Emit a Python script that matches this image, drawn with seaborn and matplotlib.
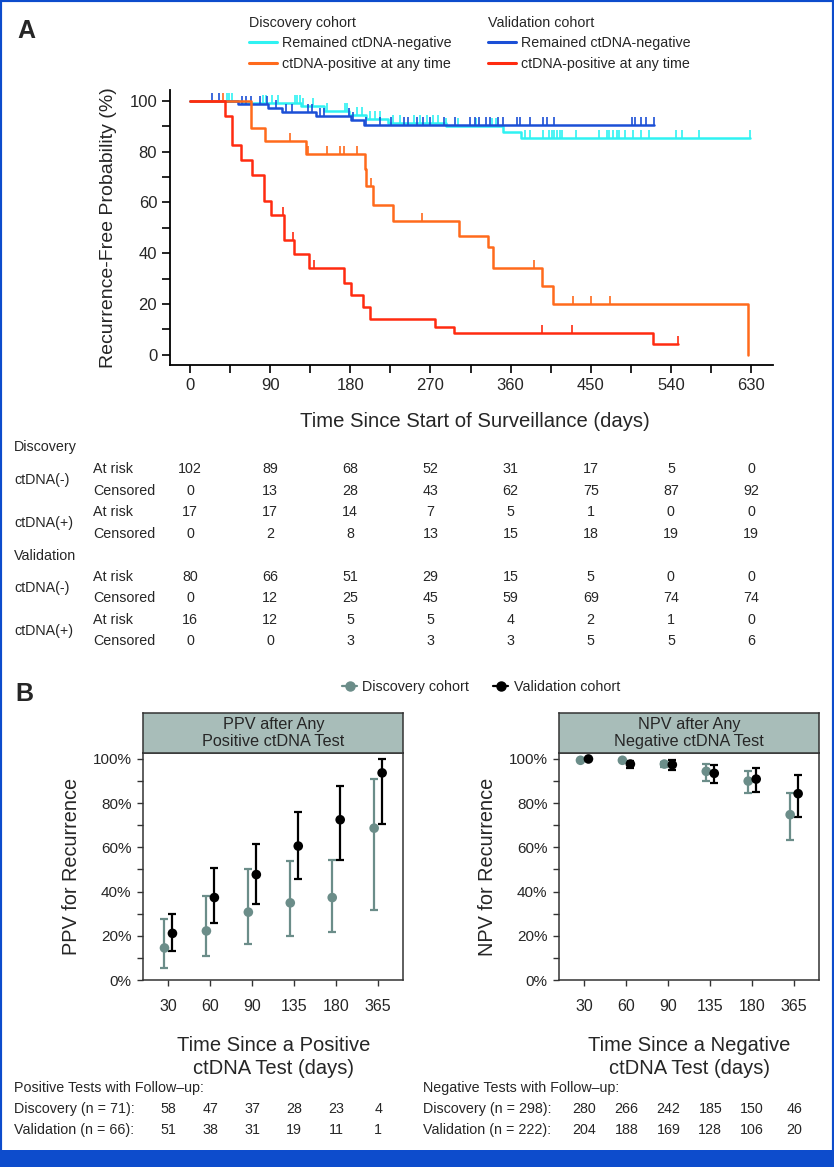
import numpy as np
import pandas as pd
import matplotlib
matplotlib.use('Agg')
import matplotlib.pyplot as plt
import matplotlib.transforms as mtransforms
from matplotlib.lines import Line2D
from matplotlib.patches import Rectangle
import seaborn as sns

# ---- panel A: Kaplan-Meier step points (days, % recurrence free) ----
disc_neg_t = [0, 58, 125, 150, 178, 198, 222, 288, 352, 372, 629]
disc_neg_s = [100, 99.0, 97.9, 96.0, 94.2, 92.7, 91.3, 89.9, 87.6, 85.3, 85.3]
disc_neg_cens = [41, 44, 47, 82, 85, 92, 99, 118, 120, 124, 127, 138, 154, 174, 176, 187,
                 193, 202, 208, 213, 228, 236, 251, 258, 266, 273, 279, 288, 301, 321,
                 339, 344, 376, 382, 396, 403, 406, 409, 412, 415, 418, 434, 459, 468,
                 471, 475, 479, 482, 488, 497, 507, 515, 546, 552, 572, 629]

val_neg_t = [0, 54, 88, 103, 142, 181, 195, 521]
val_neg_s = [100, 98.7, 97.1, 95.7, 94.1, 92.4, 90.6, 90.6]
val_neg_cens = [25, 33, 58, 63, 69, 79, 87, 97, 108, 114, 133, 137, 146, 150, 178, 183,
                198, 213, 226, 240, 245, 255, 262, 270, 285, 298, 314, 320, 324, 332,
                337, 346, 351, 367, 371, 382, 396, 401, 409, 496, 500, 506, 512, 521]

disc_pos_t = [0, 68, 84, 130, 196, 198, 205, 228, 302, 335, 340, 395, 408, 627]
disc_pos_s = [100, 89.3, 84.1, 79.0, 73.0, 66.3, 59.0, 52.5, 46.7, 42.4, 34.1, 27.2, 20.1, 0]
disc_pos_cens = [37, 112, 133, 154, 168, 173, 187, 203, 260, 386, 430, 450, 472]

val_pos_t = [0, 39, 47, 57, 70, 83, 91, 106, 117, 134, 173, 181, 194, 202, 275, 296, 520, 548]
val_pos_s = [100, 94.1, 82.4, 76.5, 70.6, 60.4, 55.2, 45.0, 39.5, 34.1, 28.2, 23.7, 19.0,
             14.0, 11.0, 8.6, 4.1, 4.1]
val_pos_cens = [104, 116, 139, 395, 429, 548]

# ---- risk table ----
risk_days = [0, 90, 180, 270, 360, 450, 540, 630]
disc_neg_risk = [102, 89, 68, 52, 31, 17, 5, 0]
disc_neg_cnt = [0, 13, 28, 43, 62, 75, 87, 92]
disc_pos_risk = [17, 17, 14, 7, 5, 1, 0, 0]
disc_pos_cnt = [0, 2, 8, 13, 15, 18, 19, 19]
val_neg_risk = [80, 66, 51, 29, 15, 5, 0, 0]
val_neg_cnt = [0, 12, 25, 45, 59, 69, 74, 74]
val_pos_risk = [16, 12, 5, 5, 4, 2, 1, 0]
val_pos_cnt = [0, 0, 3, 3, 3, 5, 5, 6]

# ---- panel B ----
windows = ['30', '60', '90', '135', '180', '365']
ppv_disc = [14.5, 22.2, 30.7, 34.9, 37.3, 68.7]
ppv_disc_lo = [5.3, 10.7, 16.5, 20.1, 21.9, 31.7]
ppv_disc_hi = [27.5, 37.8, 50.3, 53.9, 54.4, 91.1]
ppv_val = [21.1, 37.3, 47.7, 60.6, 72.5, 93.7]
ppv_val_lo = [13.1, 25.8, 34.3, 45.6, 54.4, 70.5]
ppv_val_hi = [29.9, 50.6, 61.5, 75.8, 87.6, 100]
npv_disc = [99.4, 99.4, 97.7, 94.4, 90.0, 74.8]
npv_disc_lo = [99.0, 99.0, 96.2, 90.2, 84.6, 63.4]
npv_disc_hi = [99.7, 99.7, 98.8, 97.6, 94.4, 84.6]
npv_val = [100, 97.7, 97.4, 93.5, 90.9, 84.3]
npv_val_lo = [100, 95.8, 94.9, 89.0, 85.0, 73.9]
npv_val_hi = [100, 99.1, 99.4, 97.1, 95.8, 92.7]

pos_disc_n = [58, 47, 37, 28, 23, 4]
pos_val_n = [51, 38, 31, 19, 11, 1]
neg_disc_n = [280, 266, 242, 185, 150, 46]
neg_val_n = [204, 188, 169, 128, 106, 20]

CYAN = '#2ff2f2'
BLUE = '#1b4fd6'
ORANGE = '#ff6a1c'
RED = '#ff2b10'
GREY = '#6b8d89'
STRIP = '#a8bdb9'
FRAME = '#0d4ccc'

sns.set_style('ticks')
plt.rcParams['font.family'] = ['Liberation Sans', 'DejaVu Sans']
plt.rcParams['axes.edgecolor'] = 'black'

W, H = 834, 1167
fig = plt.figure(figsize=(W / 100, H / 100), dpi=100)


def box(l, t, r, b):
    return [l / W, 1 - b / H, (r - l) / W, (b - t) / H]


def fy(py):
    return 1 - py / H


FS = 10.3

# ================= panel A =================
axA = fig.add_axes(box(170.4, 90, 773.3, 365))
curves = [
    (disc_neg_t, disc_neg_s, disc_neg_cens, CYAN),
    (val_neg_t, val_neg_s, val_neg_cens, BLUE),
    (disc_pos_t, disc_pos_s, disc_pos_cens, ORANGE),
    (val_pos_t, val_pos_s, val_pos_cens, RED),
]
for t, s, cens, col in curves:
    sns.lineplot(x=t, y=s, drawstyle='steps-post', color=col, lw=1.8,
                 estimator=None, sort=False, ax=axA)
    idx = np.searchsorted(t, cens, side='right') - 1
    axA.plot(cens, np.array(s)[idx], ls='none', marker=2, ms=5.5, mew=1.2, color=col)

axA.set_xlim(-22, 655)
axA.set_ylim(-4, 104.2)
axA.set_xticks(range(0, 631, 90))
axA.set_xticks(range(45, 631, 90), minor=True)
axA.set_yticks(range(0, 101, 20))
axA.set_yticks(range(10, 100, 20), minor=True)
axA.tick_params(which='both', direction='out', length=6, width=1.2, labelsize=12,
                color='black')
for sp in ['left', 'bottom']:
    axA.spines[sp].set_linewidth(1.3)
sns.despine(ax=axA)
axA.set_xlabel('')
axA.set_ylabel('Recurrence-Free Probability (%)', fontsize=14, labelpad=9)
fig.text(475 / W, fy(421), 'Time Since Start of Surveillance (days)', fontsize=14.6,
         ha='center', va='center')

fig.text(17 / W, fy(31), 'A', fontsize=18, fontweight='bold', va='center', ha='left')

for x0, title, cols in [(249, 'Discovery cohort', (CYAN, ORANGE)),
                        (488, 'Validation cohort', (BLUE, RED))]:
    hds = [Line2D([], [], color=cols[0], lw=2.2), Line2D([], [], color=cols[1], lw=2.2)]
    fig.legend(hds, ['Remained ctDNA-negative', 'ctDNA-positive at any time'],
               title=title, alignment='left', loc='upper left',
               bbox_to_anchor=(x0 / W, fy(16)), frameon=False, fontsize=FS,
               title_fontsize=FS, handlelength=1.95, handletextpad=0.35,
               labelspacing=0.45, borderpad=0, borderaxespad=0)

# risk table
trA = mtransforms.blended_transform_factory(axA.transData, fig.transFigure)
rows = [
    ('Discovery', 447, [(disc_neg_risk, disc_neg_cnt, 'ctDNA(-)', 469.5),
                        (disc_pos_risk, disc_pos_cnt, 'ctDNA(+)', 512.5)]),
    ('Validation', 555.5, [(val_neg_risk, val_neg_cnt, 'ctDNA(-)', 577),
                           (val_pos_risk, val_pos_cnt, 'ctDNA(+)', 620)]),
]
for cohort, yc, groups in rows:
    fig.text(14 / W, fy(yc), cohort, fontsize=FS, va='center')
    for risk, cnt, lab, yr in groups:
        yc2 = yr + 21.2
        fig.text(14 / W, fy((yr + yc2) / 2), lab, fontsize=FS, va='center')
        fig.text(93 / W, fy(yr), 'At risk', fontsize=FS, va='center')
        fig.text(93 / W, fy(yc2), 'Censored', fontsize=FS, va='center')
        for d, r, c in zip(risk_days, risk, cnt):
            axA.text(d, fy(yr), str(r), transform=trA, fontsize=FS, ha='center', va='center')
            axA.text(d, fy(yc2), str(c), transform=trA, fontsize=FS, ha='center', va='center')

# ================= panel B =================
fig.text(15 / W, fy(694), 'B', fontsize=18, fontweight='bold', va='center', ha='left')

panels = [
    ((143.3, 403.3), 'PPV after Any\nPositive ctDNA Test', 'PPV for Recurrence',
     'Time Since a Positive\nctDNA Test (days)',
     (ppv_disc, ppv_disc_lo, ppv_disc_hi), (ppv_val, ppv_val_lo, ppv_val_hi),
     'Positive Tests with Follow\u2013up:', 'Discovery (n = 71):', 'Validation (n = 66):',
     pos_disc_n, pos_val_n, 14),
    ((559.3, 819.3), 'NPV after Any\nNegative ctDNA Test', 'NPV for Recurrence',
     'Time Since a Negative\nctDNA Test (days)',
     (npv_disc, npv_disc_lo, npv_disc_hi), (npv_val, npv_val_lo, npv_val_hi),
     'Negative Tests with Follow\u2013up:', 'Discovery (n = 298):', 'Validation (n = 222):',
     neg_disc_n, neg_val_n, 423),
]
for (l, r), strip_txt, ylab, xlab, disc, val, thead, dlab, vlab, dn, vn, tx in panels:
    ax = fig.add_axes(box(l, 753, r, 980))
    sax = fig.add_axes(box(l, 713, r, 753))
    sax.set_facecolor(STRIP)
    sax.set_xticks([])
    sax.set_yticks([])
    sax.text(0.5, 0.5, strip_txt, ha='center', va='center', fontsize=11.7,
             linespacing=1.12, transform=sax.transAxes)
    for sp in sax.spines.values():
        sp.set_color('#333333')
        sp.set_linewidth(1.1)

    pos = np.arange(len(windows))
    df = pd.DataFrame({
        'x': np.concatenate([pos - 0.095, pos + 0.095]),
        'val': disc[0] + val[0],
        'lo': disc[1] + val[1],
        'hi': disc[2] + val[2],
        'cohort': ['Discovery cohort'] * 6 + ['Validation cohort'] * 6,
    })
    for coh, col in [('Discovery cohort', GREY), ('Validation cohort', 'black')]:
        sub = df[df['cohort'] == coh]
        ax.errorbar(sub['x'], sub['val'], yerr=[sub['val'] - sub['lo'], sub['hi'] - sub['val']],
                    fmt='none', ecolor=col, elinewidth=1.6, capsize=3, capthick=1.6, zorder=2)
    sns.scatterplot(data=df, x='x', y='val', hue='cohort',
                    palette={'Discovery cohort': GREY, 'Validation cohort': 'black'},
                    s=48, edgecolor='none', legend=False, zorder=3, ax=ax)

    ax.set_xlim(-0.6, 5.6)
    ax.set_ylim(0, 102.7)
    ax.set_xticks(pos)
    ax.set_xticklabels(windows)
    ax.set_yticks(range(0, 101, 20))
    ax.set_yticklabels([f'{v}%' for v in range(0, 101, 20)])
    ax.set_yticks(range(10, 100, 20), minor=True)
    ax.tick_params(which='both', direction='out', length=4.5, width=1, color='#333333')
    ax.tick_params(axis='y', labelsize=11, pad=4)
    ax.tick_params(axis='x', labelsize=11.5, pad=9)
    for sp in ax.spines.values():
        sp.set_color('#333333')
        sp.set_linewidth(1.1)
    ax.set_xlabel('')
    ax.set_ylabel(ylab, fontsize=14.3, labelpad=8)
    fig.text((l + r) / 2 / W, fy(1057), xlab, fontsize=14.5, ha='center', va='center',
             linespacing=1.3)

    tr = mtransforms.blended_transform_factory(ax.transData, fig.transFigure)
    fig.text(tx / W, fy(1088), thead, fontsize=FS, va='center')
    fig.text(tx / W, fy(1109), dlab, fontsize=FS, va='center')
    fig.text(tx / W, fy(1130), vlab, fontsize=FS, va='center')
    for p, a, b in zip(pos, dn, vn):
        ax.text(p, fy(1109), str(a), transform=tr, fontsize=FS, ha='center', va='center')
        ax.text(p, fy(1130), str(b), transform=tr, fontsize=FS, ha='center', va='center')

hdsB = [Line2D([], [], color=GREY, marker='o', ms=6.5, lw=1.6),
        Line2D([], [], color='black', marker='o', ms=6.5, lw=1.6)]
fig.legend(hdsB, ['Discovery cohort', 'Validation cohort'], ncol=2, loc='center',
           bbox_to_anchor=(481 / W, fy(687)), frameon=False, fontsize=FS,
           handlelength=1.05, handletextpad=0.35, columnspacing=1.7,
           borderpad=0, borderaxespad=0)

# page frame
fig.add_artist(Rectangle((0, 0), 1, 1, transform=fig.transFigure, fill=False,
                         edgecolor=FRAME, lw=3))
fig.add_artist(Rectangle((0, 0), 1, 17 / H, transform=fig.transFigure,
                         facecolor=FRAME, edgecolor='none'))

fig.savefig('out.png', dpi=100)
